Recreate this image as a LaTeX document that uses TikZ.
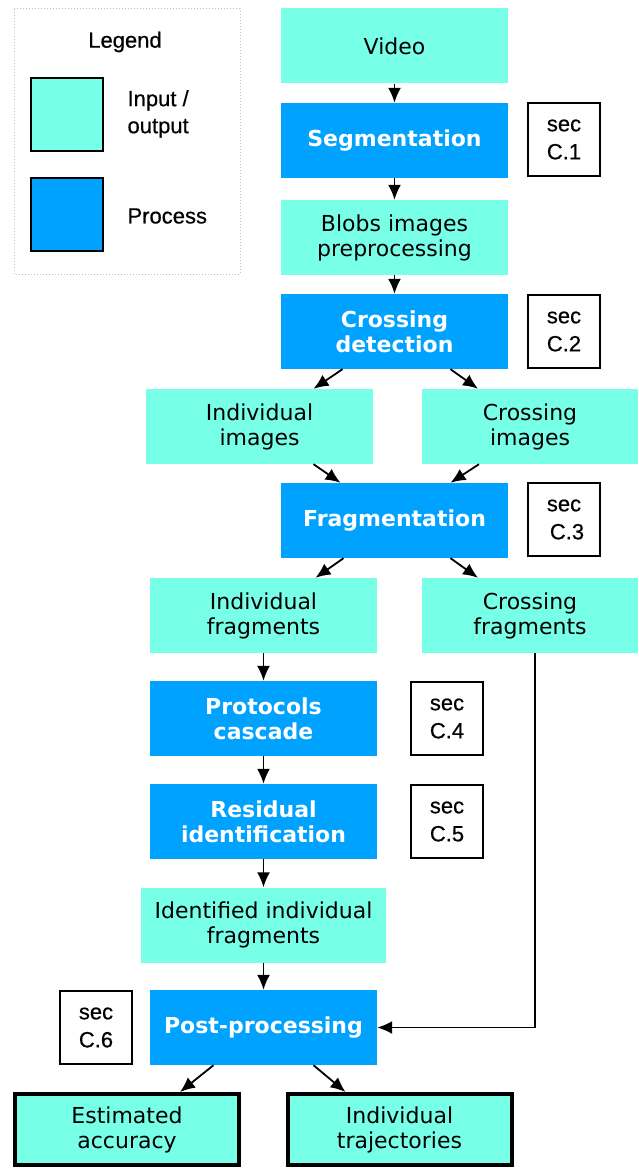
\documentclass[tikz,border=0pt]{standalone}
\usepackage{fontspec}
\setmainfont{Liberation Sans}[FakeBold=0.5]
\newfontfamily\dejavu{DejaVu Sans}
\usetikzlibrary{arrows.meta}
\definecolor{iocol}{RGB}{120,255,232}
\definecolor{proccol}{RGB}{0,162,255}
\begin{document}
\begin{tikzpicture}[x=1pt,y=-1pt,
  io/.style={fill=iocol, minimum width=227, minimum height=75, inner sep=0, align=center, font=\dejavu\fontsize{22}{25}\selectfont},
  proc/.style={fill=proccol, text=white, minimum width=227, minimum height=75, inner sep=0, align=center, font=\dejavu\bfseries\fontsize{22}{25}\selectfont},
  secbox/.style={draw, line width=2, fill=white, minimum width=72, minimum height=73, inner sep=0, align=center, font=\fontsize{22}{28}\selectfont},
  finalbox/.style={io, draw, line width=4, minimum width=224, minimum height=71},
  arr/.style={line width=1.8, -{Latex[length=15pt,width=13pt]}},
  legtext/.style={anchor=west, align=left, font=\fontsize{22}{27}\selectfont}
]
\useasboundingbox (0,0) rectangle (638,1169);
% legend
\draw[gray!50, line width=1, dotted] (14,9) rectangle (240,274);
\node[font=\fontsize{22}{25}\selectfont] (legtitle) at (125,42) {Legend};
\node[draw, line width=2, fill=iocol, minimum width=72, minimum height=73, inner sep=0] (legio) at (67,114.5) {};
\node[draw, line width=2, fill=proccol, minimum width=72, minimum height=73, inner sep=0] (legproc) at (67,214.5) {};
\node[legtext] (legiotext) at (124,114) {Input /\\output};
\node[legtext] (legproctext) at (124,216) {Process};
% main flow
\node[io] (video) at (394.5,46) {Video};
\node[proc] (seg) at (394.5,140.5) {Segmentation};
\node[secbox] (s1) at (564,139.5) {sec\\C.1};
\node[io] (blobs) at (394.5,237.5) {Blobs images\\preprocessing};
\node[proc] (cd) at (394.5,331.5) {Crossing\\detection};
\node[secbox] (s2) at (564,331.5) {sec\\C.2};
\node[io] (ii) at (259.5,426.5) {Individual\\images};
\node[io, minimum width=216] (ci) at (530,426.5) {Crossing\\images};
\node[proc] (frag) at (394.5,520.5) {Fragmentation};
\node[secbox] (s3) at (564,519.5) {sec\\\hspace*{6pt}C.3};
\node[io] (if) at (263.5,615.5) {Individual\\fragments};
\node[io, minimum width=216] (cf) at (530,615.5) {Crossing\\fragments};
\node[proc] (pc) at (263.5,718.5) {Protocols\\cascade};
\node[secbox] (s4) at (447,718.5) {sec\\C.4};
\node[proc] (ri) at (263.5,821.5) {Residual\\identification};
\node[secbox] (s5) at (447,821.5) {sec\\C.5};
\node[io, minimum width=245] (iif) at (263.5,925) {Identified individual\\fragments};
\node[proc] (pp) at (263.5,1027.5) {Post-processing};
\node[secbox] (s6) at (96,1027.5) {sec\\C.6};
\node[finalbox] (ea) at (127,1129.5) {Estimated\\accuracy};
\node[finalbox] (it) at (399.5,1129.5) {Individual\\trajectories};
% arrows
\draw[arr] (video) -- (seg);
\draw[arr] (seg) -- (blobs);
\draw[arr] (blobs) -- (cd);
\draw[arr] ([xshift=-52]cd.south) -- ([xshift=54]ii.north);
\draw[arr] ([xshift=56]cd.south) -- ([xshift=-52]ci.north);
\draw[arr] ([xshift=54]ii.south) -- ([xshift=-54]frag.north);
\draw[arr] ([xshift=-51]ci.south) -- ([xshift=56]frag.north);
\draw[arr] ([xshift=-51]frag.south) -- ([xshift=52]if.north);
\draw[arr] ([xshift=56]frag.south) -- ([xshift=-52]cf.north);
\draw[arr] (if) -- (pc);
\draw[arr] (pc) -- (ri);
\draw[arr] (ri) -- (iif);
\draw[arr] (iif) -- (pp);
\draw[arr] ([xshift=5]cf.south) |- (pp.east);
\draw[arr] ([xshift=-50]pp.south) -- ([xshift=53]ea.north);
\draw[arr] ([xshift=50]pp.south) -- ([xshift=-54]it.north);
\end{tikzpicture}
\end{document}
